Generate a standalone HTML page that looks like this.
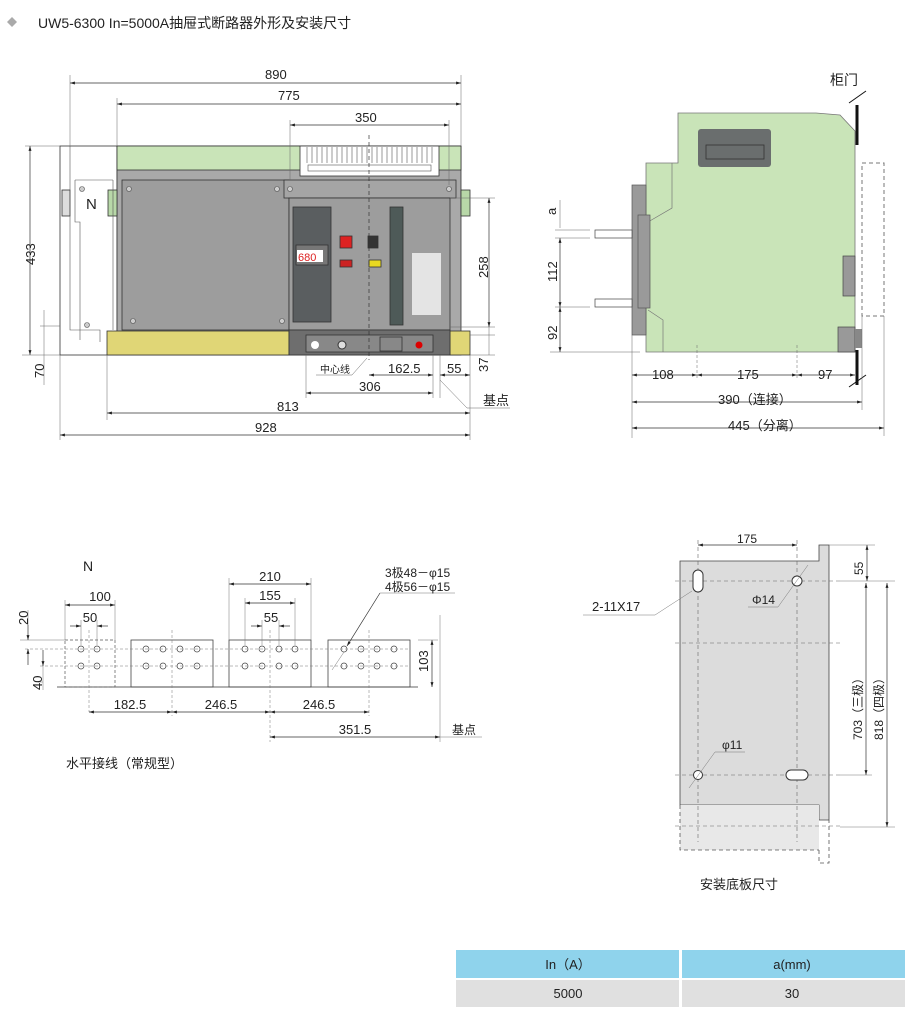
<!DOCTYPE html>
<html><head><meta charset="utf-8"><style>
body{margin:0;background:#fff;width:910px;height:1013px;overflow:hidden}
svg{display:block}
text{font-family:"Liberation Sans","Noto Sans CJK SC",sans-serif;fill:#222}
</style></head><body>
<svg width="910" height="1013" viewBox="0 0 910 1013" xmlns="http://www.w3.org/2000/svg">
<defs>
<marker id="a" viewBox="0 0 10 10" refX="10" refY="5" markerWidth="7" markerHeight="7" orient="auto-start-reverse"><path d="M0,2 L10,5 L0,8z" fill="#222"/></marker>
</defs>
<polygon points="12,17 17,22 12,27 7,22" fill="#aaa"/>
<text x="38" y="28" font-size="14">UW5-6300  In=5000A抽屉式断路器外形及安装尺寸</text>

<!-- FRONT VIEW -->
<g stroke="#333" stroke-width="0.8">
<rect x="60" y="146" width="57" height="209" fill="#fff"/>
<rect x="117" y="146" width="344" height="209" fill="#a9a9a9"/>
<rect x="117" y="146" width="344" height="24" fill="#c9e4b8"/>
<rect x="300" y="146" width="139" height="30" fill="#fff"/>
<rect x="122" y="180" width="167" height="150" fill="#9d9d9d"/>
<rect x="284" y="180" width="172" height="18" fill="#a5a5a5"/>
<rect x="289" y="198" width="161" height="132" fill="#9d9d9d"/>
<rect x="107" y="331" width="182" height="24" fill="#e0d676"/>
<rect x="450" y="331" width="20" height="24" fill="#e0d676"/>
<rect x="289" y="330" width="161" height="25" fill="#6e6e6e"/>
<rect x="306" y="335" width="127" height="17" fill="#888"/>
<rect x="293" y="207" width="38" height="115" fill="#5a5e60"/>
<rect x="296" y="245" width="32" height="20" fill="#777"/>
<rect x="390" y="207" width="13" height="118" fill="#4e5a58"/>
<rect x="412" y="253" width="29" height="62" fill="#e4e4e4" stroke="none"/>
<rect x="340" y="236" width="12" height="12" fill="#d22"/>
<rect x="368" y="236" width="10" height="12" fill="#333"/>
<rect x="340" y="260" width="12" height="7" fill="#c22"/>
<rect x="369" y="260" width="12" height="7" fill="#e8d820"/>
<rect x="62" y="190" width="8" height="26" fill="#ddd"/>
<rect x="108" y="190" width="9" height="26" fill="#b8d8a8"/>
<rect x="461" y="190" width="9" height="26" fill="#b8d8a8"/>
</g>
<g stroke="#555" stroke-width="0.6" fill="none">
<path d="M307,147 V163 M312,147 V163 M317,147 V163 M322,147 V163 M327,147 V163 M332,147 V163 M337,147 V163 M342,147 V163 M347,147 V163 M352,147 V163 M357,147 V163 M362,147 V163 M367,147 V163 M372,147 V163 M377,147 V163 M382,147 V163 M387,147 V163 M392,147 V163 M397,147 V163 M402,147 V163 M407,147 V163 M412,147 V163 M417,147 V163 M422,147 V163 M427,147 V163 M432,147 V163"/>
<rect x="308" y="165" width="123" height="6"/>
<path d="M70,146 V330 H80 V340 M75,180 H113 M75,180 V222 H80 V330 M80,330 H100 V342 M113,180 V330"/>
</g>
<g fill="#ccc" stroke="#555" stroke-width="0.6">
<circle cx="129" cy="189" r="2.5"/><circle cx="277" cy="189" r="2.5"/><circle cx="290" cy="189" r="2.5"/><circle cx="449" cy="189" r="2.5"/>
<circle cx="133" cy="321" r="2.5"/><circle cx="282" cy="321" r="2.5"/><circle cx="82" cy="189" r="2.5"/><circle cx="87" cy="325" r="2.5"/>
</g>
<rect x="297" y="250" width="26" height="12" fill="#fff" stroke="none"/>
<text x="298" y="261" font-size="11" style="fill:#d22">680</text>
<circle cx="315" cy="345" r="4" fill="#fff"/><circle cx="419" cy="345" r="3.5" fill="#d00"/>
<circle cx="342" cy="345" r="4" fill="#ddd" stroke="#333"/>
<rect x="380" y="337" width="22" height="14" fill="none" stroke="#333" stroke-width="0.8"/>
<text x="86" y="209" font-size="15">N</text>
<line x1="369" y1="135" x2="369" y2="360" stroke="#333" stroke-width="0.7" stroke-dasharray="4,3"/>

<g stroke="#333" stroke-width="0.7" fill="none" marker-start="url(#a)" marker-end="url(#a)">
<line x1="70" y1="83" x2="461" y2="83"/>
<line x1="117" y1="104" x2="461" y2="104"/>
<line x1="290" y1="125" x2="449" y2="125"/>
<line x1="30" y1="146" x2="30" y2="355"/>
<line x1="489" y1="198" x2="489" y2="327"/>
<line x1="369" y1="375" x2="433" y2="375"/>
<line x1="440" y1="375" x2="470" y2="375"/>
<line x1="306" y1="393" x2="433" y2="393"/>
<line x1="107" y1="413" x2="470" y2="413"/>
<line x1="60" y1="435" x2="470" y2="435"/>
</g>
<g stroke="#666" stroke-width="0.5">
<line x1="70" y1="75" x2="70" y2="146"/><line x1="461" y1="75" x2="461" y2="146"/>
<line x1="117" y1="98" x2="117" y2="146"/><line x1="290" y1="120" x2="290" y2="180"/><line x1="449" y1="120" x2="449" y2="185"/>
<line x1="25" y1="146" x2="60" y2="146"/><line x1="22" y1="355" x2="60" y2="355"/>
<line x1="40" y1="326" x2="60" y2="326"/><line x1="44" y1="310" x2="44" y2="385"/>
<line x1="450" y1="198" x2="495" y2="198"/><line x1="450" y1="327" x2="495" y2="327"/>
<line x1="470" y1="335" x2="495" y2="335"/><line x1="470" y1="355" x2="495" y2="355"/>
<line x1="489" y1="327" x2="489" y2="355"/>
<line x1="306" y1="355" x2="306" y2="398"/><line x1="433" y1="355" x2="433" y2="398"/>
<line x1="440" y1="355" x2="440" y2="398"/><line x1="470" y1="355" x2="470" y2="440"/>
<line x1="107" y1="355" x2="107" y2="420"/><line x1="60" y1="355" x2="60" y2="440"/>
<line x1="316" y1="375" x2="352" y2="375"/><line x1="352" y1="375" x2="367" y2="358"/>
<line x1="440" y1="380" x2="467" y2="408"/><line x1="467" y1="408" x2="510" y2="408"/>
</g>
<text x="265" y="79" font-size="13">890</text>
<text x="278" y="100" font-size="13">775</text>
<text x="355" y="122" font-size="13">350</text>
<text x="388" y="373" font-size="13">162.5</text>
<text x="447" y="373" font-size="13">55</text>
<text x="359" y="391" font-size="13">306</text>
<text x="277" y="411" font-size="13">813</text>
<text x="255" y="432" font-size="13">928</text>
<text x="320" y="373" font-size="10">中心线</text>
<text x="483" y="405" font-size="13">基点</text>
<text transform="translate(35,265) rotate(-90)" font-size="13">433</text>
<text transform="translate(44,378) rotate(-90)" font-size="13">70</text>
<text transform="translate(488,278) rotate(-90)" font-size="13">258</text>
<text transform="translate(488,372) rotate(-90)" font-size="13">37</text>

<!-- SIDE VIEW -->
<polygon points="678,113 816,113 840,115 855,131 855,352 646,352 646,163 678,163" fill="#c9e4b8" stroke="#777" stroke-width="0.8"/>
<path d="M672,163 V208 L648,222 M648,310 L663,320 V352" fill="none" stroke="#777" stroke-width="0.7"/>
<rect x="698" y="129" width="73" height="38" rx="3" fill="#6a6e6e"/>
<rect x="706" y="145" width="58" height="14" fill="none" stroke="#333" stroke-width="0.8"/>
<rect x="632" y="185" width="14" height="150" fill="#9a9a9a" stroke="#555" stroke-width="0.7"/>
<rect x="638" y="215" width="12" height="93" fill="#9a9a9a" stroke="#555" stroke-width="0.7"/>
<rect x="595" y="230" width="37" height="8" fill="#fff" stroke="#444" stroke-width="0.7"/>
<rect x="595" y="299" width="37" height="8" fill="#fff" stroke="#444" stroke-width="0.7"/>
<rect x="843" y="256" width="12" height="40" fill="#999" stroke="#444" stroke-width="0.7"/>
<rect x="838" y="327" width="17" height="25" fill="#999" stroke="#444" stroke-width="0.7"/>
<rect x="855" y="329" width="7" height="19" fill="#888"/>
<rect x="862" y="163" width="22" height="153" fill="none" stroke="#777" stroke-dasharray="4,3"/>
<line x1="857" y1="105" x2="857" y2="145" stroke="#111" stroke-width="3"/>
<line x1="849" y1="103" x2="866" y2="91" stroke="#111" stroke-width="1"/>
<line x1="857" y1="350" x2="857" y2="385" stroke="#111" stroke-width="3"/>
<line x1="849" y1="387" x2="866" y2="375" stroke="#111" stroke-width="1"/>
<text x="830" y="85" font-size="14">柜门</text>
<g stroke="#333" stroke-width="0.7" marker-start="url(#a)" marker-end="url(#a)">
<line x1="632" y1="375" x2="697" y2="375"/><line x1="697" y1="375" x2="797" y2="375"/><line x1="797" y1="375" x2="855" y2="375"/>
<line x1="632" y1="402" x2="862" y2="402"/><line x1="632" y1="428" x2="884" y2="428"/>
<line x1="560" y1="238" x2="560" y2="307"/><line x1="560" y1="307" x2="560" y2="352"/>
</g>
<g stroke="#666" stroke-width="0.5">
<line x1="632" y1="335" x2="632" y2="438"/><line x1="862" y1="316" x2="862" y2="410"/><line x1="884" y1="316" x2="884" y2="436"/>
<line x1="697" y1="345" x2="697" y2="380" stroke-dasharray="3,2"/><line x1="797" y1="345" x2="797" y2="380" stroke-dasharray="3,2"/>
<line x1="555" y1="230" x2="590" y2="230"/><line x1="555" y1="238" x2="590" y2="238"/><line x1="555" y1="307" x2="590" y2="307"/>
<line x1="550" y1="352" x2="640" y2="352"/>
<line x1="560" y1="200" x2="560" y2="228"/>
</g>
<text x="652" y="379" font-size="13">108</text><text x="737" y="379" font-size="13">175</text><text x="818" y="379" font-size="13">97</text>
<text x="718" y="404" font-size="13">390（连接）</text><text x="728" y="430" font-size="13">445（分离）</text>
<text transform="translate(556,215) rotate(-90)" font-size="13">a</text>
<text transform="translate(557,282) rotate(-90)" font-size="13">112</text>
<text transform="translate(557,340) rotate(-90)" font-size="13">92</text>

<!-- BUSBAR LAYOUT -->
<text x="83" y="571" font-size="14">N</text>
<line x1="57" y1="687" x2="418" y2="687" stroke="#333" stroke-width="0.8"/>
<rect x="65" y="640" width="50" height="47" fill="none" stroke="#555" stroke-dasharray="3,2" stroke-width="0.7"/>
<g fill="none" stroke="#444" stroke-width="0.8">
<rect x="131" y="640" width="82" height="47"/><rect x="229" y="640" width="82" height="47"/><rect x="328" y="640" width="82" height="47"/>
</g>
<g fill="#fff" stroke="#444" stroke-width="0.7">
<circle cx="81" cy="649" r="3"/><circle cx="97" cy="649" r="3"/><circle cx="81" cy="666" r="3"/><circle cx="97" cy="666" r="3"/>
<circle cx="146" cy="649" r="3"/><circle cx="163" cy="649" r="3"/><circle cx="180" cy="649" r="3"/><circle cx="197" cy="649" r="3"/>
<circle cx="146" cy="666" r="3"/><circle cx="163" cy="666" r="3"/><circle cx="180" cy="666" r="3"/><circle cx="197" cy="666" r="3"/>
<circle cx="245" cy="649" r="3"/><circle cx="262" cy="649" r="3"/><circle cx="279" cy="649" r="3"/><circle cx="295" cy="649" r="3"/>
<circle cx="245" cy="666" r="3"/><circle cx="262" cy="666" r="3"/><circle cx="279" cy="666" r="3"/><circle cx="295" cy="666" r="3"/>
<circle cx="344" cy="649" r="3"/><circle cx="361" cy="649" r="3"/><circle cx="377" cy="649" r="3"/><circle cx="394" cy="649" r="3"/>
<circle cx="344" cy="666" r="3"/><circle cx="361" cy="666" r="3"/><circle cx="377" cy="666" r="3"/><circle cx="394" cy="666" r="3"/>
</g>
<g stroke="#777" stroke-width="0.5" stroke-dasharray="3,2">
<line x1="89" y1="630" x2="89" y2="712"/><line x1="172" y1="630" x2="172" y2="716"/><line x1="270" y1="630" x2="270" y2="742"/><line x1="369" y1="630" x2="369" y2="716"/>
<line x1="25" y1="649" x2="410" y2="649"/><line x1="40" y1="666" x2="410" y2="666"/>
</g>
<g stroke="#333" stroke-width="0.7" marker-start="url(#a)" marker-end="url(#a)">
<line x1="65" y1="605" x2="115" y2="605"/><line x1="229" y1="584" x2="311" y2="584"/><line x1="245" y1="603" x2="295" y2="603"/>
<line x1="432" y1="640" x2="432" y2="687"/>
<line x1="89" y1="712" x2="172" y2="712"/><line x1="172" y1="712" x2="270" y2="712"/><line x1="270" y1="712" x2="369" y2="712"/>
<line x1="270" y1="737" x2="440" y2="737"/>
</g>
<g stroke="#333" stroke-width="0.7" marker-end="url(#a)">
<line x1="70" y1="626" x2="81" y2="626"/><line x1="108" y1="626" x2="97" y2="626"/>
<line x1="251" y1="626" x2="262" y2="626"/><line x1="290" y1="626" x2="279" y2="626"/>
<line x1="28" y1="625" x2="28" y2="640"/><line x1="28" y1="665" x2="28" y2="649"/>
<line x1="43" y1="650" x2="43" y2="666"/>
<line x1="380" y1="593" x2="347" y2="646"/>
</g>
<g stroke="#777" stroke-width="0.5">
<line x1="65" y1="600" x2="65" y2="640"/><line x1="115" y1="600" x2="115" y2="640"/><line x1="81" y1="620" x2="81" y2="645"/><line x1="97" y1="620" x2="97" y2="645"/>
<line x1="229" y1="578" x2="229" y2="640"/><line x1="311" y1="578" x2="311" y2="640"/><line x1="245" y1="598" x2="245" y2="645"/><line x1="295" y1="598" x2="295" y2="645"/><line x1="262" y1="620" x2="262" y2="645"/><line x1="279" y1="620" x2="279" y2="645"/>
<line x1="20" y1="640" x2="65" y2="640"/><line x1="38" y1="682" x2="43" y2="682"/><line x1="43" y1="666" x2="43" y2="690"/><line x1="28" y1="610" x2="28" y2="625"/>
<line x1="418" y1="640" x2="438" y2="640"/><line x1="440" y1="615" x2="440" y2="742"/>
<line x1="440" y1="737" x2="482" y2="737"/><line x1="380" y1="593" x2="455" y2="593"/>
<line x1="332" y1="670" x2="344" y2="652"/>
</g>
<text x="100" y="601" font-size="13" text-anchor="middle">100</text>
<text x="90" y="622" font-size="13" text-anchor="middle">50</text>
<text x="270" y="581" font-size="13" text-anchor="middle">210</text>
<text x="270" y="600" font-size="13" text-anchor="middle">155</text>
<text x="271" y="622" font-size="13" text-anchor="middle">55</text>
<text x="130" y="709" font-size="13" text-anchor="middle">182.5</text>
<text x="221" y="709" font-size="13" text-anchor="middle">246.5</text>
<text x="319" y="709" font-size="13" text-anchor="middle">246.5</text>
<text x="355" y="734" font-size="13" text-anchor="middle">351.5</text>
<text x="452" y="734" font-size="12">基点</text>
<text x="385" y="577" font-size="12">3极48－φ15</text>
<text x="385" y="591" font-size="12">4极56－φ15</text>
<text transform="translate(28,625) rotate(-90)" font-size="13">20</text>
<text transform="translate(42,690) rotate(-90)" font-size="13">40</text>
<text transform="translate(428,672) rotate(-90)" font-size="13">103</text>
<text x="66" y="768" font-size="13">水平接线（常规型）</text>

<!-- MOUNTING PLATE -->
<polygon points="680,561 819,561 819,545 829,545 829,820 819,820 819,805 680,805" fill="#dcdcdc" stroke="#444" stroke-width="0.8"/>
<polygon points="680,805 819,805 819,850 680,850" fill="#e8e8e8" stroke="none"/>
<path d="M680,805 V850 H819 M819,850 V863 H829 V820" fill="none" stroke="#555" stroke-width="0.8" stroke-dasharray="4,3"/>
<g stroke="#666" stroke-width="0.6" stroke-dasharray="4,3">
<line x1="698" y1="540" x2="698" y2="842"/><line x1="797" y1="540" x2="797" y2="842"/>
<line x1="675" y1="581" x2="840" y2="581"/><line x1="675" y1="643" x2="840" y2="643"/>
<line x1="675" y1="775" x2="840" y2="775"/><line x1="675" y1="826" x2="840" y2="826"/>
</g>
<rect x="693" y="570" width="10" height="22" rx="5" fill="#fff" stroke="#333"/>
<circle cx="797" cy="581" r="5" fill="#fff" stroke="#333"/>
<circle cx="698" cy="775" r="4.5" fill="#fff" stroke="#333"/>
<rect x="786" y="770" width="22" height="10" rx="5" fill="#fff" stroke="#333"/>
<g stroke="#333" stroke-width="0.7" marker-start="url(#a)" marker-end="url(#a)">
<line x1="698" y1="545" x2="797" y2="545"/>
<line x1="867" y1="545" x2="867" y2="581"/><line x1="866" y1="583" x2="866" y2="775"/><line x1="887" y1="583" x2="887" y2="827"/>
</g>
<g stroke="#777" stroke-width="0.5">
<line x1="829" y1="545" x2="875" y2="545"/><line x1="840" y1="581" x2="895" y2="581"/><line x1="840" y1="775" x2="872" y2="775"/><line x1="840" y1="827" x2="895" y2="827"/>
<line x1="583" y1="615" x2="655" y2="615"/><line x1="655" y1="615" x2="692" y2="591"/>
<line x1="748" y1="607" x2="778" y2="607"/><line x1="778" y1="607" x2="808" y2="565"/>
<line x1="745" y1="752" x2="715" y2="752"/><line x1="715" y1="752" x2="689" y2="788"/>
</g>
<text x="592" y="611" font-size="13">2-11X17</text>
<text x="752" y="604" font-size="12">Φ14</text>
<text x="722" y="749" font-size="12">φ11</text>
<text x="747" y="543" font-size="12" text-anchor="middle">175</text>
<text transform="translate(863,575) rotate(-90)" font-size="12">55</text>
<text transform="translate(862,740) rotate(-90)" font-size="12">703（三极）</text>
<text transform="translate(883,740) rotate(-90)" font-size="12">818（四极）</text>
<text x="700" y="889" font-size="13">安装底板尺寸</text>

<!-- TABLE -->
<rect x="456" y="950" width="223" height="28" fill="#8fd3ec"/>
<rect x="682" y="950" width="223" height="28" fill="#8fd3ec"/>
<rect x="456" y="980" width="223" height="27" fill="#e0e0e0"/>
<rect x="682" y="980" width="223" height="27" fill="#e0e0e0"/>
<text x="568" y="969" font-size="13" text-anchor="middle">In（A）</text>
<text x="792" y="969" font-size="13" text-anchor="middle">a(mm)</text>
<text x="568" y="998" font-size="13" text-anchor="middle">5000</text>
<text x="792" y="998" font-size="13" text-anchor="middle">30</text>
</svg>
</body></html>
